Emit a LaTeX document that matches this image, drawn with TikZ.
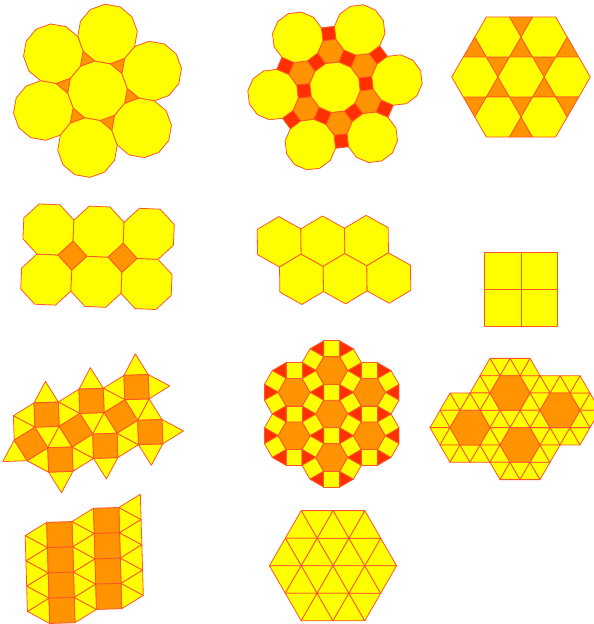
\documentclass[tikz,border=0pt]{standalone}
\definecolor{cYel}{RGB}{255,255,0}
\definecolor{cOr}{RGB}{255,147,0}
\definecolor{cRed}{RGB}{255,48,0}
\definecolor{cEdge}{RGB}{255,85,40}
\tikzset{tile/.style={draw=cEdge, line width=0.8pt, line join=round},
 tYel/.style={tile, fill=cYel}, tOr/.style={tile, fill=cOr}, tRed/.style={tile, fill=cRed}}
% regular polygon: style, n, cx, cy, circumradius, start angle
\newcommand\rp[6]{\filldraw[#1] plot[domain=0:#2-1, samples=#2, variable=\t] ({(#3)+(#5)*cos((#6)+360*\t/#2)},{(#4)+(#5)*sin((#6)+360*\t/#2)}) -- cycle;}
% ring of 18 triangles around a lattice point: style, cx, cy, side
\newcommand\ringtri[4]{%
 \begin{scope}[shift={(#2,#3)}]
 \foreach \k in {0,...,5}{
  \filldraw[#1] ({60*\k}:#4) -- ({60*\k}:{2*#4}) -- ({60*\k+30}:{1.7320508*#4}) -- cycle;
  \filldraw[#1] ({60*\k}:#4) -- ({60*\k+30}:{1.7320508*#4}) -- ({60*\k+60}:#4) -- cycle;
  \filldraw[#1] ({60*\k+60}:#4) -- ({60*\k+30}:{1.7320508*#4}) -- ({60*\k+60}:{2*#4}) -- cycle;
 }
 \end{scope}}
\begin{document}
\begin{tikzpicture}[x=1pt,y=1pt]
\useasboundingbox (0,0) rectangle (594,-624);
\clip (0,0) rectangle (594,-624);
\fill[white] (0,0) rectangle (594,-624);

% 1: 3.12.12
\begin{scope}[shift={(97.5,-90.8)}, rotate=20]
 \foreach \k in {0,...,5}{ \rp{tOr}{3}{33.31*cos(30+60*\k)}{33.31*sin(30+60*\k)}{8.93}{30+60*\k} }
 \rp{tYel}{12}{0}{0}{29.87}{15}
 \foreach \k in {0,...,5}{ \rp{tYel}{12}{57.7*cos(60*\k)}{57.7*sin(60*\k)}{29.87}{15} }
\end{scope}

% 2: 4.6.12
\begin{scope}[shift={(335,-87.3)}, rotate=6.7]
 \foreach \k in {0,...,5}{
  \rp{tRed}{4}{31.19*cos(60*\k)}{31.19*sin(60*\k)}{9.32}{45+60*\k}
  \rp{tRed}{4}{54.02*cos(30+60*\k)}{54.02*sin(30+60*\k)}{9.32}{75+60*\k}
  \rp{tOr}{6}{36.02*cos(30+60*\k)}{36.02*sin(30+60*\k)}{13.18}{0}
 }
 \rp{tYel}{12}{0}{0}{25.47}{15}
 \foreach \k in {0,...,5}{ \rp{tYel}{12}{62.38*cos(60*\k)}{62.38*sin(60*\k)}{25.47}{15} }
\end{scope}

% 3: 3.6.3.6
\begin{scope}[shift={(521,-77)}]
 \foreach \k in {0,...,5}{
  \rp{tOr}{3}{26.67*cos(30+60*\k)}{26.67*sin(30+60*\k)}{13.34}{30+60*\k}
  \rp{tOr}{3}{53.35*cos(30+60*\k)}{53.35*sin(30+60*\k)}{13.34}{90+60*\k}
  \rp{tYel}{6}{46.2*cos(60*\k)}{46.2*sin(60*\k)}{23.1}{0}
 }
 \rp{tYel}{6}{0}{0}{23.1}{0}
\end{scope}

% 4: 4.8.8
\begin{scope}[shift={(97.5,-256.7)}, rotate=-2.5]
 \foreach \cx in {-25.1,25.1}{ \rp{tOr}{4}{\cx}{0}{14.7}{0} }
 \foreach \cx in {-50.2,0,50.2}{ \foreach \cy in {-25.1,25.1}{ \rp{tYel}{8}{\cx}{\cy}{27.17}{22.5} } }
\end{scope}

% 5: 6.6.6
\begin{scope}[shift={(334,-259.9)}, rotate=0.8]
 \foreach \i in {-1,0,1}{
  \rp{tYel}{6}{-10.9+43.65*\i}{18.9}{25.2}{30}
  \rp{tYel}{6}{10.9+43.65*\i}{-18.9}{25.2}{30}
 }
\end{scope}

% 6: 4.4.4.4
\filldraw[tYel] (484.3,-252.7) rectangle (521,-289.3);
\filldraw[tYel] (521,-252.7) rectangle (557.7,-289.3);
\filldraw[tYel] (484.3,-289.3) rectangle (521,-326);
\filldraw[tYel] (521,-289.3) rectangle (557.7,-326);

% 7: 3.3.4.3.4
\begin{scope}[shift={(46.6,-414.6)}, rotate=17]
 \foreach \cx/\cy/\al in {0/0/30, 47/0/30, 94/0/30, 0/-47/30, 47/-47/30, 94/-47/30, -23.5/-23.5/60, 23.5/-23.5/60, 70.5/-23.5/60}{
  \foreach \m in {0,...,3}{ \rp{tYel}{3}{\cx+19.19*cos(\al+45+90*\m)}{\cy+19.19*sin(\al+45+90*\m)}{14.05}{\al+45+90*\m} }
 }
 \foreach \cx/\cy/\al in {0/0/30, 47/0/30, 94/0/30, 0/-47/30, 47/-47/30, 94/-47/30, -23.5/-23.5/60, 23.5/-23.5/60, 70.5/-23.5/60}{
  \rp{tOr}{4}{\cx}{\cy}{17.2}{\al}
 }
\end{scope}

% 8: 3.4.6.4
\begin{scope}[shift={(331.7,-414)}]
 \foreach \cx/\cy in {0/0, 37.62/21.72, 0/43.44, -37.62/21.72, -37.62/-21.72, 0/-43.44, 37.62/-21.72}{
  \foreach \m in {0,...,5}{
   \rp{tRed}{3}{\cx+25.08*cos(60*\m)}{\cy+25.08*sin(60*\m)}{9.18}{60*\m+60}
   \rp{tYel}{4}{\cx+21.72*cos(30+60*\m)}{\cy+21.72*sin(30+60*\m)}{11.24}{75+60*\m}
  }
 }
 \foreach \cx/\cy in {0/0, 37.62/21.72, 0/43.44, -37.62/21.72, -37.62/-21.72, 0/-43.44, 37.62/-21.72}{
  \rp{tOr}{6}{\cx}{\cy}{15.9}{0}
 }
\end{scope}

% 9: 3.3.3.3.6
\begin{scope}[shift={(510,-393)}]
 \foreach \cx/\cy in {0/0, 50/-17.32, -40/-34.64, 10/-51.96}{ \ringtri{tYel}{\cx}{\cy}{20} }
 \foreach \cx/\cy in {0/0, 50/-17.32, -40/-34.64, 10/-51.96}{ \rp{tOr}{6}{\cx}{\cy}{20}{0} }
\end{scope}

% 10: 3.3.3.4.4
\begin{scope}[shift={(46.7,-522.3)}, rotate=1.7]
 \foreach \k in {0,...,3}{
  \filldraw[tYel] (0,{-25.3*\k}) -- (0,{-25.3*(\k+1)}) -- (-21.91,{-25.3*(\k+0.5)}) -- cycle;
  \filldraw[tYel] (25.3,{-25.3*\k}) -- (25.3,{-25.3*(\k+1)}) -- (47.21,{-25.3*(\k+0.5)}) -- cycle;
  \filldraw[tYel] (47.21,{-25.3*(\k-0.5)}) -- (47.21,{-25.3*(\k+0.5)}) -- (25.3,{-25.3*\k}) -- cycle;
  \filldraw[tYel] (72.51,{-25.3*(\k-0.5)}) -- (72.51,{-25.3*(\k+0.5)}) -- (94.42,{-25.3*\k}) -- cycle;
  \filldraw[tYel] (94.42,{-25.3*(\k-1)}) -- (94.42,{-25.3*\k}) -- (72.51,{-25.3*(\k-0.5)}) -- cycle;
 }
 \foreach \k in {0,1,2}{
  \filldraw[tYel] (-21.91,{-25.3*(\k+0.5)}) -- (-21.91,{-25.3*(\k+1.5)}) -- (0,{-25.3*(\k+1)}) -- cycle;
 }
 \foreach \k in {0,...,3}{
  \filldraw[tOr] (0,{-25.3*\k}) -- (25.3,{-25.3*\k}) -- (25.3,{-25.3*(\k+1)}) -- (0,{-25.3*(\k+1)}) -- cycle;
  \filldraw[tOr] (47.21,{-25.3*(\k-0.5)}) -- (72.51,{-25.3*(\k-0.5)}) -- (72.51,{-25.3*(\k+0.5)}) -- (47.21,{-25.3*(\k+0.5)}) -- cycle;
 }
\end{scope}

% 11: 3.3.3.3.3.3
\begin{scope}[shift={(333,-565.7)}]
 \foreach \k in {0,...,5}{ \filldraw[tYel] (0,0) -- ({60*\k}:31.8) -- ({60*\k+60}:31.8) -- cycle; }
 \ringtri{tYel}{0}{0}{31.8}
\end{scope}
\end{tikzpicture}
\end{document}
